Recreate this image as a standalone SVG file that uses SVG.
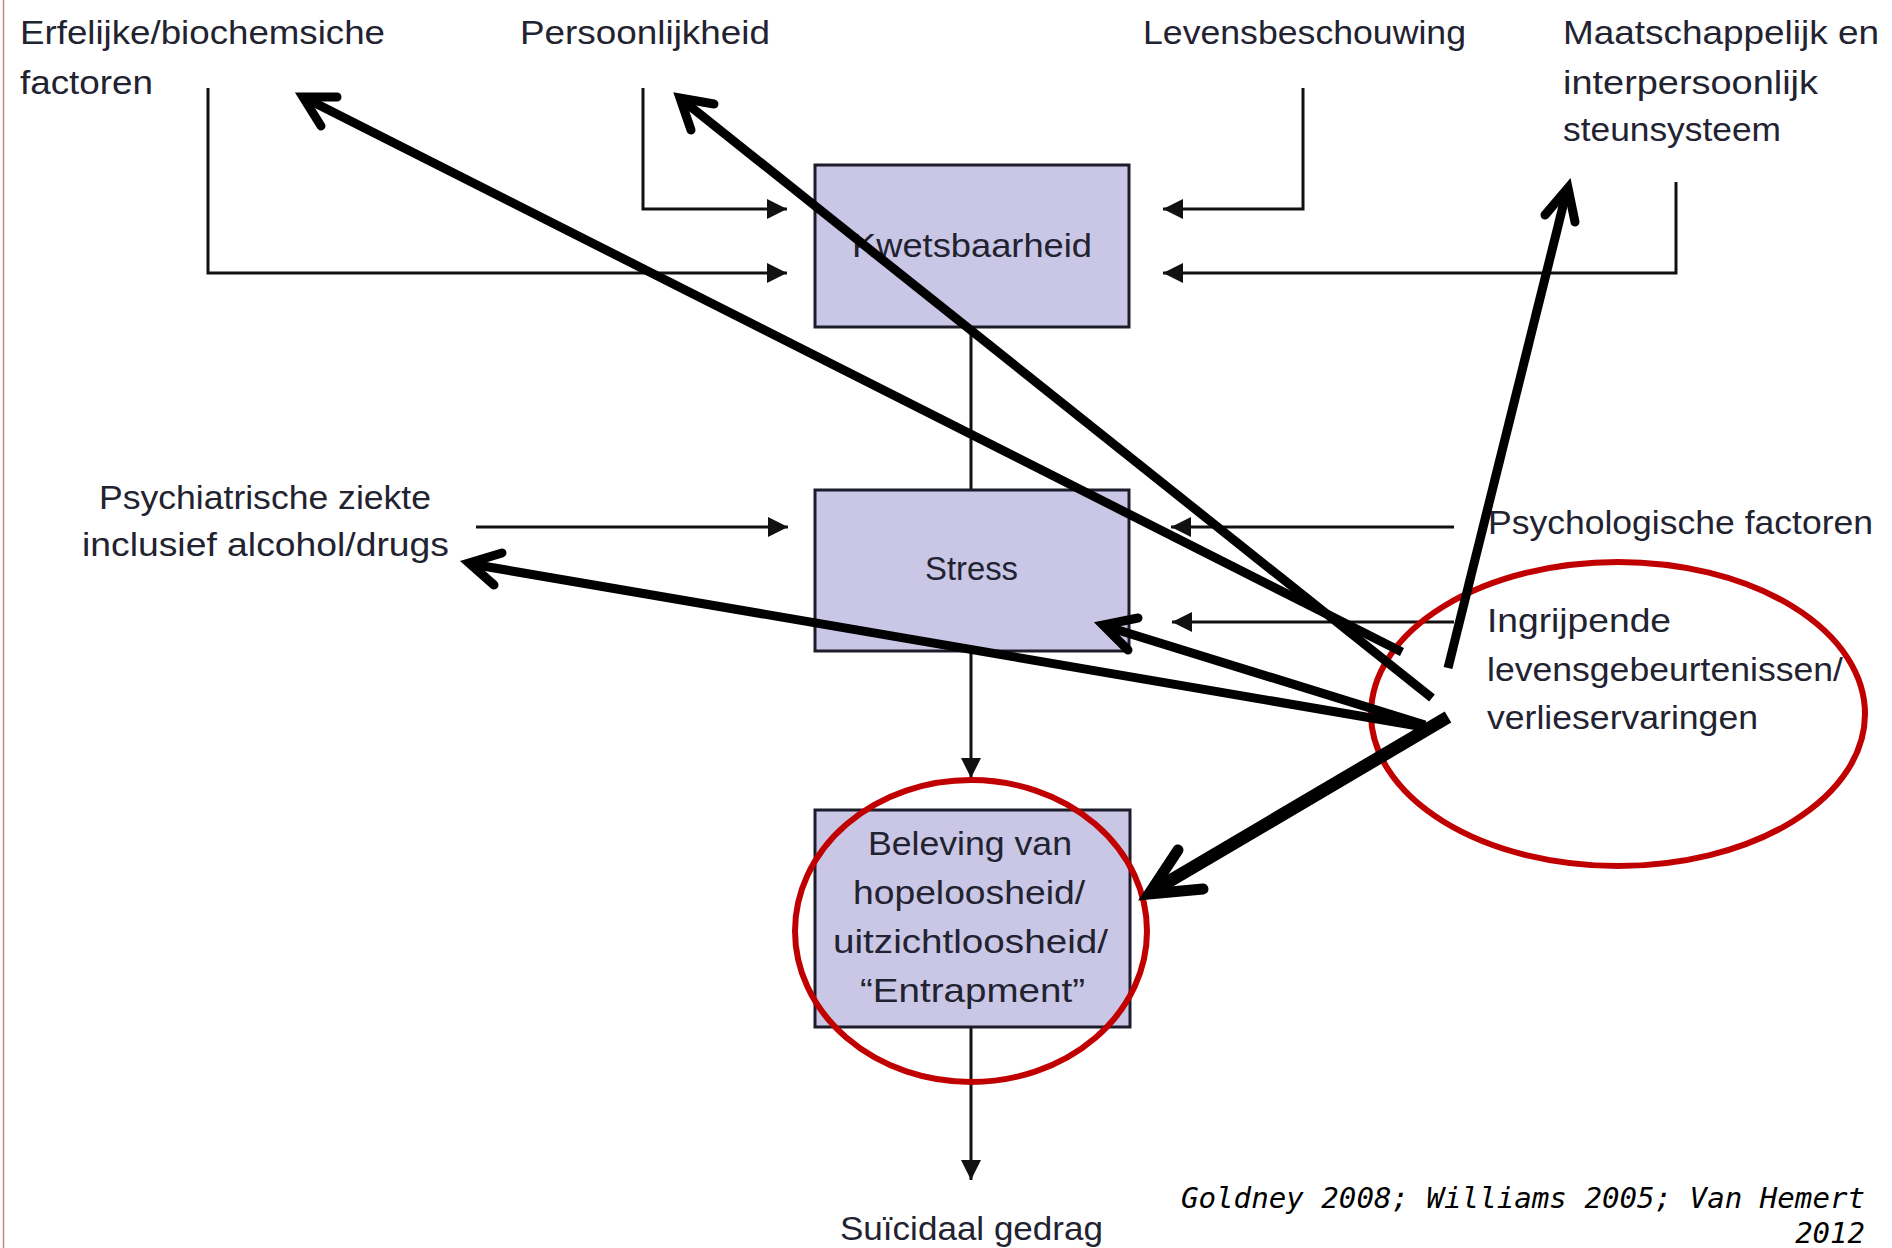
<svg xmlns="http://www.w3.org/2000/svg" width="1892" height="1248" viewBox="0 0 1892 1248">
  <style>
    .lbl { font-family: "Liberation Sans", Arial, sans-serif; font-size: 34px; fill: #222230; }
    .box { fill: #c9c7e5; stroke: #1c1c2a; stroke-width: 3; }
    .conn { fill: none; stroke: #111; stroke-width: 3; }
    .big { fill: none; stroke: #000; stroke-width: 9; stroke-linecap: butt; }
    .head { fill: none; stroke: #000; stroke-width: 9; stroke-linecap: round; stroke-linejoin: miter; stroke-miterlimit: 10; }
    .ring { fill: none; stroke: #c00000; stroke-width: 6; }
    .cite { font-family: "DejaVu Sans Mono", "Liberation Mono", monospace; font-style: italic; font-size: 29px; fill: #000; }
  </style>
  <defs>
    <marker id="tri" markerUnits="userSpaceOnUse" markerWidth="22" markerHeight="22" refX="20" refY="10" orient="auto">
      <path d="M0,0 L20,10 L0,20 z" fill="#111"/>
    </marker>
  </defs>
  <rect x="0" y="0" width="1892" height="1248" fill="#ffffff"/>
  <line x1="3.5" y1="0" x2="3.5" y2="1248" stroke="#cc7f7f" stroke-width="1.5"/>

  <g id="connectors">
    <path class="conn" d="M208,88 V273 H787" marker-end="url(#tri)"/>
    <path class="conn" d="M643,88 V209 H787" marker-end="url(#tri)"/>
    <path class="conn" d="M1303,88 V209 H1163" marker-end="url(#tri)"/>
    <path class="conn" d="M1676,182 V273 H1163" marker-end="url(#tri)"/>
    <path class="conn" d="M971,327 V490"/>
    <path class="conn" d="M476,527 H788" marker-end="url(#tri)"/>
    <path class="conn" d="M1454,527 H1171" marker-end="url(#tri)"/>
    <path class="conn" d="M1454,622 H1172" marker-end="url(#tri)"/>
    <path class="conn" d="M971,651 V778" marker-end="url(#tri)"/>
    <path class="conn" d="M971,1027 V1180" marker-end="url(#tri)"/>
  </g>

  <g id="node-erfelijk">
    <text class="lbl" x="20" y="44" textLength="365" lengthAdjust="spacingAndGlyphs">Erfelijke/biochemsiche</text>
    <text class="lbl" x="20" y="94" textLength="133" lengthAdjust="spacingAndGlyphs">factoren</text>
  </g>
  <g id="node-persoonlijkheid">
    <text class="lbl" x="520" y="44" textLength="250" lengthAdjust="spacingAndGlyphs">Persoonlijkheid</text>
  </g>
  <g id="node-levensbeschouwing">
    <text class="lbl" x="1143" y="44" textLength="323" lengthAdjust="spacingAndGlyphs">Levensbeschouwing</text>
  </g>
  <g id="node-maatschappelijk">
    <text class="lbl" x="1563" y="44" textLength="316" lengthAdjust="spacingAndGlyphs">Maatschappelijk en</text>
    <text class="lbl" x="1563" y="94" textLength="255" lengthAdjust="spacingAndGlyphs">interpersoonlijk</text>
    <text class="lbl" x="1563" y="141" textLength="218" lengthAdjust="spacingAndGlyphs">steunsysteem</text>
  </g>
  <g id="node-kwetsbaarheid">
    <rect class="box" x="815" y="165" width="314" height="162"/>
    <text class="lbl" x="852" y="257" textLength="240" lengthAdjust="spacingAndGlyphs">Kwetsbaarheid</text>
  </g>
  <g id="node-psychiatrisch">
    <text class="lbl" x="99" y="509" textLength="332" lengthAdjust="spacingAndGlyphs">Psychiatrische ziekte</text>
    <text class="lbl" x="82" y="556" textLength="367" lengthAdjust="spacingAndGlyphs">inclusief alcohol/drugs</text>
  </g>
  <g id="node-stress">
    <rect class="box" x="815" y="490" width="314" height="161"/>
    <text class="lbl" x="925" y="580" textLength="93" lengthAdjust="spacingAndGlyphs">Stress</text>
  </g>
  <g id="node-psychologisch">
    <text class="lbl" x="1488" y="534" textLength="385" lengthAdjust="spacingAndGlyphs">Psychologische factoren</text>
  </g>
  <g id="node-ingrijpend">
    <text class="lbl" x="1487" y="632" textLength="184" lengthAdjust="spacingAndGlyphs">Ingrijpende</text>
    <text class="lbl" x="1487" y="681" textLength="356" lengthAdjust="spacingAndGlyphs">levensgebeurtenissen/</text>
    <text class="lbl" x="1487" y="729" textLength="271" lengthAdjust="spacingAndGlyphs">verlieservaringen</text>
  </g>
  <g id="node-beleving">
    <rect class="box" x="815" y="810" width="315" height="217"/>
    <text class="lbl" x="868" y="855" textLength="204" lengthAdjust="spacingAndGlyphs">Beleving van</text>
    <text class="lbl" x="853" y="904" textLength="232" lengthAdjust="spacingAndGlyphs">hopeloosheid/</text>
    <text class="lbl" x="833" y="953" textLength="275" lengthAdjust="spacingAndGlyphs">uitzichtloosheid/</text>
    <text class="lbl" x="860" y="1002" textLength="225" lengthAdjust="spacingAndGlyphs">“Entrapment”</text>
  </g>
  <g id="node-suicidaal">
    <text class="lbl" x="840" y="1240" textLength="263" lengthAdjust="spacingAndGlyphs">Suïcidaal gedrag</text>
  </g>

  <g id="annotation-rings">
    <ellipse class="ring" cx="1618" cy="714" rx="247" ry="152"/>
    <ellipse class="ring" cx="971" cy="931" rx="176" ry="151"/>
  </g>

  <g id="annotation-arrows">
    <line class="big" x1="1402" y1="652" x2="305" y2="98"/>
    <path class="head" d="M321,126 L303,97 L337,97"/>
    <line class="big" x1="1432" y1="698" x2="681" y2="99"/>
    <path class="head" d="M691,130 L680,98 L714,104"/>
    <line class="big" x1="1448" y1="668" x2="1567" y2="190"/>
    <path class="head" d="M1545,215 L1568,188 L1575,222"/>
    <line class="big" x1="1430" y1="728" x2="471" y2="564"/>
    <path class="head" d="M502,553 L469,563 L494,585"/>
    <line class="big" x1="1425" y1="725" x2="1105" y2="626"/>
    <path class="head" d="M1138,618 L1103,625 L1128,650"/>
    <line class="big" x1="1448" y1="717" x2="1151" y2="892" style="stroke-width:13"/>
    <path class="head" d="M1178,850 L1149,894 L1203,889" style="stroke-width:11"/>
  </g>

  <g id="citation">
    <text class="cite" x="1865" y="1208" text-anchor="end" textLength="684" lengthAdjust="spacingAndGlyphs">Goldney 2008; Williams 2005; Van Hemert</text>
    <text class="cite" x="1865" y="1243" text-anchor="end">2012</text>
  </g>
</svg>
